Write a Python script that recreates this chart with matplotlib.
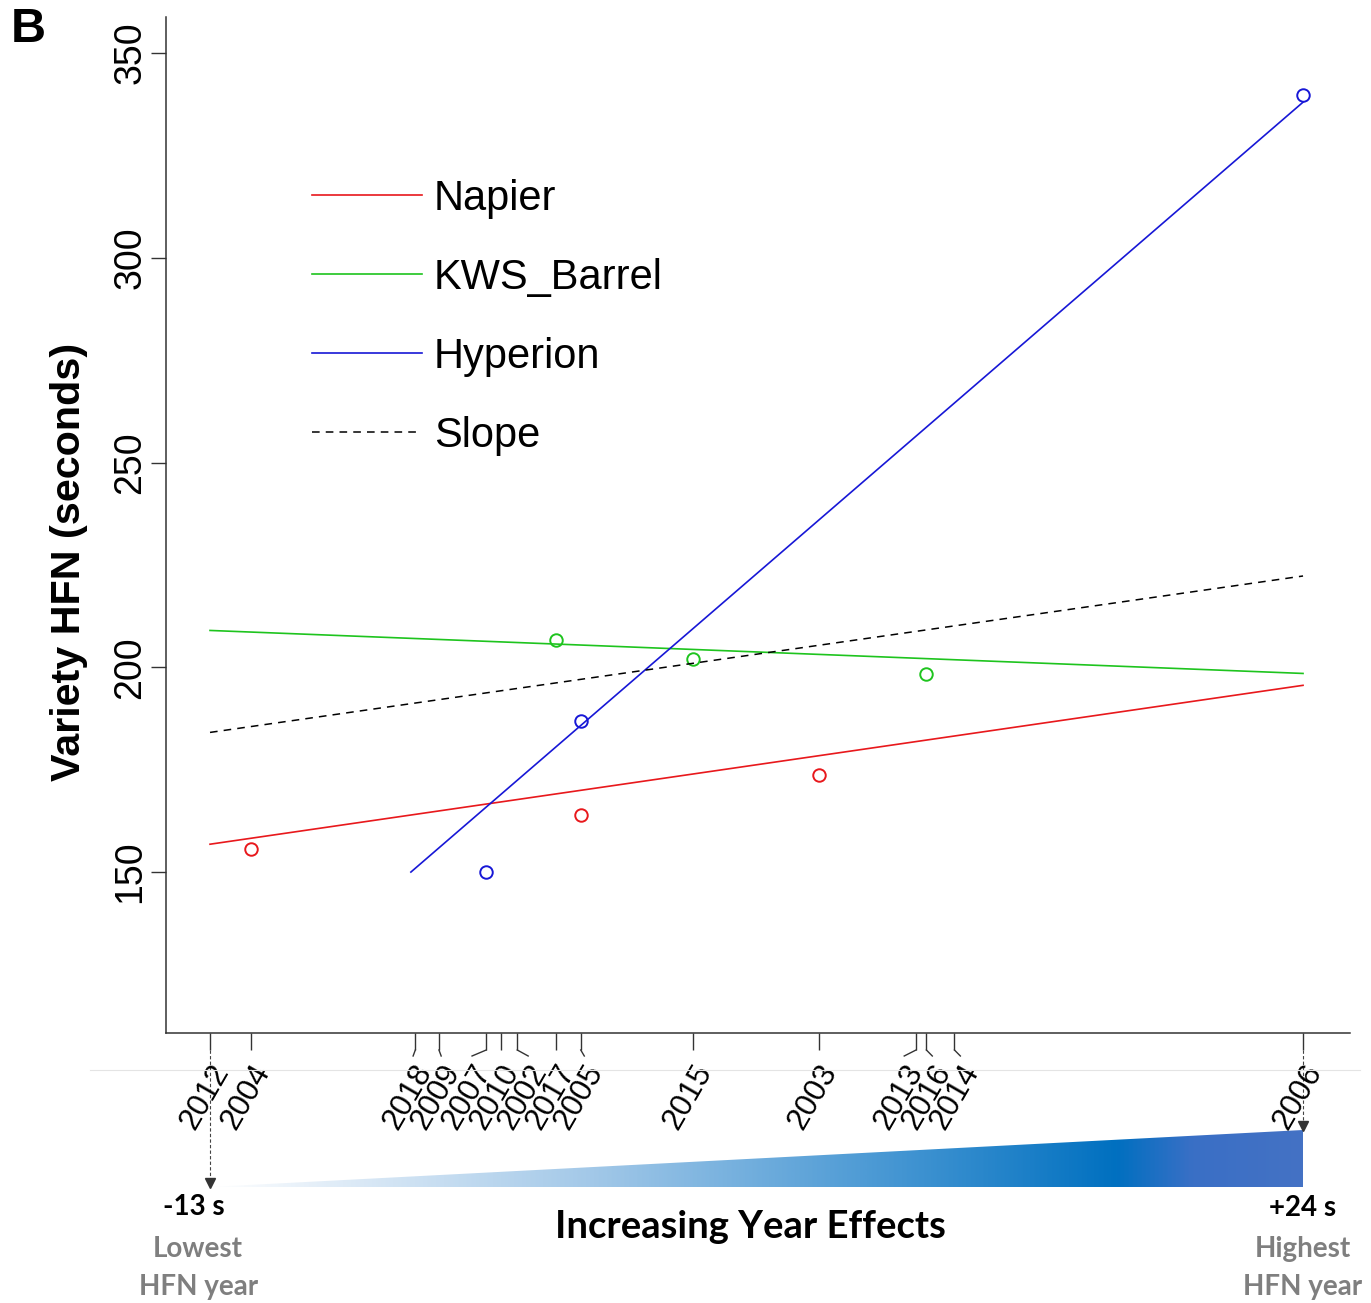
import numpy as np
import matplotlib as mpl
mpl.use('Agg')
import matplotlib.pyplot as plt
from matplotlib.colors import LinearSegmentedColormap
from matplotlib.patches import Polygon
from matplotlib.lines import Line2D

# year effects (s) along the x axis
years = ['2012', '2004', '2018', '2009', '2007', '2010', '2002', '2017', '2005',
         '2015', '2003', '2013', '2016', '2014', '2006']
year_effect = [-13.0, -11.6, -6.05, -5.25, -3.65, -3.15, -2.6, -1.3, -0.45,
               3.35, 7.6, 10.9, 11.25, 12.2, 24.0]

# variety HFN observations
napier_years = ['2004', '2005', '2003']
napier_hfn = [155.6, 163.9, 173.7]
kws_years = ['2017', '2015', '2016']
kws_hfn = [206.6, 202.0, 198.3]
hyp_years = ['2007', '2005', '2006']
hyp_hfn = [150.0, 186.8, 339.7]

# fitted lines (x = year effect, y = HFN)
napier_fit_x = [-13.0, 24.0]
napier_fit_y = [156.8, 195.6]
kws_fit_x = [-13.0, 24.0]
kws_fit_y = [209.0, 198.5]
hyp_fit_x = [-6.2, 24.0]
hyp_fit_y = [150.0, 338.0]
slope_fit_x = [-13.0, 24.0]
slope_fit_y = [184.1, 222.3]

RED = '#e8181c'
GREEN = '#1ec41e'
BLUE = '#1717d6'

W, H = 1371, 1303
eff = dict(zip(years, year_effect))


def spread(xs, d, n=300):
    xs = np.asarray(xs, float)
    order = np.argsort(xs)
    pos = xs[order].copy()
    for _ in range(n):
        for i in range(len(pos) - 1):
            gap = pos[i + 1] - pos[i]
            if gap < d:
                s = (d - gap) / 2
                pos[i] -= s
                pos[i + 1] += s
    out = np.empty_like(pos)
    out[order] = pos
    return out


fig = plt.figure(figsize=(W / 100, H / 100), dpi=100)
L, R, T, B = 166 / W, 1350 / W, 17 / H, 1033 / H
ax = fig.add_axes([L, 1 - B, R - L, B - T])

for yrs, vals, c in [(napier_years, napier_hfn, RED), (kws_years, kws_hfn, GREEN),
                     (hyp_years, hyp_hfn, BLUE)]:
    ax.plot([eff[y] for y in yrs], vals, 'o', ms=9, mfc='none', mec=c, mew=1.4)

ax.plot(napier_fit_x, napier_fit_y, color=RED, lw=1.2, label='Napier')
ax.plot(kws_fit_x, kws_fit_y, color=GREEN, lw=1.2, label='KWS_Barrel')
ax.plot(hyp_fit_x, hyp_fit_y, color=BLUE, lw=1.2, label='Hyperion')
ax.plot(slope_fit_x, slope_fit_y, color='k', lw=1.1, ls=(0, (5, 4)), label='Slope')

ax.set_xlim(-14.49, 25.59)
ax.set_ylim(110.7, 358.8)
ax.set_yticks([150, 200, 250, 300, 350])
ax.set_xticks(year_effect)
ax.set_xticklabels([])
ax.tick_params(axis='x', length=12.2, width=1.0, color='#333333')
ax.tick_params(axis='y', length=10.8, width=1.0, color='#333333', pad=2,
               labelsize=27, labelrotation=90)
for t in ax.get_yticklabels():
    t.set_va('center')
    t.set_family('Liberation Sans')
for s in ['top', 'right']:
    ax.spines[s].set_visible(False)
for s in ['left', 'bottom']:
    ax.spines[s].set_color('#333333')
    ax.spines[s].set_linewidth(1.1)
ax.set_ylabel('Variety HFN (seconds)', fontsize=29.7, fontweight='bold',
              family='Liberation Sans')
ax.yaxis.set_label_coords(-0.0659, 0.4636)

ax.legend(loc='upper left', bbox_to_anchor=(0.123, 0.841), frameon=False,
          prop={'family': 'Liberation Sans', 'size': 30}, handlelength=2.65,
          handletextpad=0.28, labelspacing=0.94, borderpad=0, borderaxespad=0)

# overlay axes in pixel rows for the tick labels and the year-effect wedge
ax2 = fig.add_axes([L, 0, R - L, 1])
ax2.axis('off')

lab_x = spread(year_effect, 0.95)
y_tick_end, y_bend, y_lab = 1050, 1056, 1067
for yr, x0, x1 in zip(years, year_effect, lab_x):
    if abs(x1 - x0) > 0.05:
        ax2.plot([x0, x1], [y_tick_end, y_bend], color='#333333', lw=1.0, clip_on=False)
    ax2.text(x1 + 0.4, y_lab, yr, rotation=60, rotation_mode='anchor', ha='right',
             va='center', fontsize=22.5, family='Liberation Sans')

xmin, xmax = min(year_effect), max(year_effect)
y_base, y_top = 1187, 1130
cmap = LinearSegmentedColormap.from_list('yeff', [
    (0.0, '#ffffff'), (0.12, '#deebf7'), (0.35, '#a2c8e8'), (0.6, '#4e9bd5'),
    (0.83, '#0070c0'), (0.9, '#3a6fc6'), (1.0, '#4472c4')])
grad = np.linspace(0, 1, 512).reshape(1, -1)
im = ax2.imshow(grad, cmap=cmap, aspect='auto', extent=(xmin, xmax, y_base, y_top),
                interpolation='bilinear')
tri = Polygon([(xmin, y_base), (xmax, y_base), (xmax, y_top)], closed=True,
              transform=ax2.transData, facecolor='none', edgecolor='none')
ax2.add_patch(tri)
im.set_clip_path(tri)

for xv, yend in [(xmin, y_base), (xmax, y_top)]:
    ax2.plot([xv, xv], [1050, yend - 6], color='#444444', lw=0.8, ls=(0, (3, 2)),
             clip_on=False)
    ax2.plot([xv], [yend - 4], marker='v', ms=7, color='#333333', clip_on=False)

ax2.set_xlim(ax.get_xlim())
ax2.set_ylim(H, 0)

bfont = ['Lato']
ax2.text(xmin - 0.55, 1207, '%d s' % xmin, ha='center', va='center', fontsize=20,
         fontweight='bold', family=bfont)
ax2.text(xmax, 1208, '+%d s' % xmax, ha='center', va='center', fontsize=20,
         fontweight='bold', family=bfont)
ax2.text(xmin - 0.4, 1249, 'Lowest', ha='center', va='center', fontsize=20,
         fontweight='bold', family=bfont, color='#7f7f7f')
ax2.text(xmin - 0.4, 1287, 'HFN year', ha='center', va='center', fontsize=20,
         fontweight='bold', family=bfont, color='#7f7f7f')
ax2.text(xmax, 1249, 'Highest', ha='center', va='center', fontsize=20,
         fontweight='bold', family=bfont, color='#7f7f7f')
ax2.text(xmax, 1287, 'HFN year', ha='center', va='center', fontsize=20,
         fontweight='bold', family=bfont, color='#7f7f7f')
ax2.text((xmin + xmax) / 2 - 0.21, 1227, 'Increasing Year Effects', ha='center',
         va='center', fontsize=27.5, fontweight='bold', family=bfont)

fig.add_artist(Line2D([90 / W, 1360 / W], [1 - 1070 / H] * 2, color='#e4e4e4', lw=0.8))
fig.text(28 / W, 1 - 30 / H, 'B', ha='center', va='center', fontsize=35,
         fontweight='bold', family='Liberation Sans')

fig.savefig('out.png', dpi=100)
plt.close()
